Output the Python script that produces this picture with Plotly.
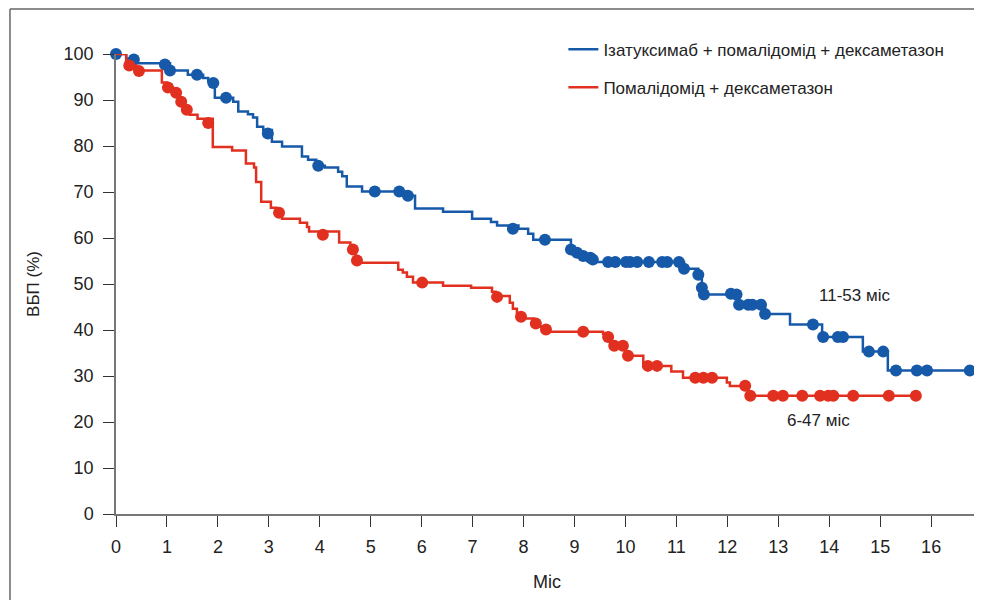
import plotly.graph_objects as go

# ---- Data ----
months_ticks = list(range(0, 17))
pfs_ticks = list(range(0, 101, 10))

# Isatuximab + pomalidomide + dexamethasone: KM step curve
isa_t = [0, 0.2, 0.37, 1.06, 1.41, 1.71, 1.81, 1.94, 2.3, 2.4, 2.59, 2.69, 2.77, 2.89, 3.06,
         3.26, 3.65, 3.77, 3.93, 4.1, 4.36, 4.44, 4.53, 4.83, 5.7, 5.87, 6.42, 6.99, 7.36, 7.48,
         7.9, 8.09, 8.19, 8.93, 9.05, 9.17, 9.36, 11.15, 11.43, 11.5, 11.54, 12.21, 12.74, 13.23,
         13.86, 14.66, 15.15, 16.76]
isa_s = [100, 99, 98, 96.4, 95.5, 94.8, 94.0, 90.5, 89.6, 87.5, 86.9, 86.2, 84.2, 83.5, 80.9,
         79.9, 77.7, 77.0, 75.7, 75.3, 74.4, 73.4, 71.2, 70.1, 69.2, 66.4, 65.7, 64.2, 63.5, 62.7,
         62.0, 60.9, 59.6, 57.5, 56.8, 56.1, 54.8, 53.3, 52.0, 49.2, 47.7, 45.5, 43.5, 41.2,
         38.5, 35.3, 31.2, 31.2]
isa_cens_t = [0, 0.35, 0.96, 1.06, 1.59, 1.91, 2.16, 2.98, 3.97, 5.08, 5.56, 5.73, 7.79, 8.42,
              8.93, 9.05, 9.17, 9.31, 9.36, 9.66, 9.8, 10.01, 10.09, 10.23, 10.46, 10.72, 10.82,
              11.05, 11.15, 11.43, 11.5, 11.54, 12.07, 12.18, 12.23, 12.41, 12.49, 12.66, 12.74,
              13.68, 13.88, 14.17, 14.27, 14.78, 15.06, 15.31, 15.72, 15.92, 16.76]
isa_cens_s = [100, 98.8, 97.7, 96.4, 95.5, 93.7, 90.5, 82.7, 75.7, 70.1, 70.1, 69.2, 62.0, 59.6,
              57.5, 56.8, 56.1, 55.7, 55.3, 54.8, 54.8, 54.8, 54.8, 54.8, 54.8, 54.8, 54.8,
              54.8, 53.3, 52.0, 49.2, 47.7, 47.9, 47.7, 45.5, 45.5, 45.5, 45.5, 43.5,
              41.2, 38.5, 38.5, 38.5, 35.3, 35.3, 31.2, 31.2, 31.2, 31.2]

# Pomalidomide + dexamethasone: KM step curve
pd_t = [0, 0.2, 0.4, 0.9, 1.0, 1.12, 1.25, 1.35, 1.45, 1.6, 1.9, 2.28, 2.55, 2.71, 2.75, 2.85,
        3.04, 3.15, 3.26, 3.61, 3.75, 3.79, 4.38, 4.6, 4.7, 4.77, 5.54, 5.63, 5.71, 5.83, 6.42,
        6.97, 7.38, 7.45, 7.73, 7.79, 7.87, 7.93, 8.03, 8.2, 8.32, 8.4, 9.56, 9.62, 9.7, 10.0,
        10.35, 10.9, 11.13, 11.99, 12.05, 12.41, 15.7]
pd_s = [100, 97.5, 96.4, 93.8, 92.7, 91.6, 89.6, 87.9, 86.8, 85.9, 79.8, 79.0, 76.2, 75.3, 72.2,
        67.9, 66.6, 65.5, 64.2, 63.3, 62.4, 61.4, 59.0, 57.5, 55.1, 54.6, 53.1, 52.5, 51.6, 50.3,
        49.6, 49.2, 48.3, 47.4, 45.9, 44.6, 43.5, 42.9, 42.5, 41.4, 40.7, 39.6, 39.2, 38.5, 36.6,
        34.4, 32.2, 31.0, 29.6, 28.6, 27.8, 25.7, 25.7]
pd_cens_t = [0.26, 0.45, 1.02, 1.18, 1.28, 1.39, 1.81, 3.2, 4.06, 4.65, 4.73, 6.01, 7.48, 7.95,
             8.24, 8.44, 9.17, 9.66, 9.78, 9.95, 10.05, 10.44, 10.62, 11.37, 11.53, 11.7, 12.35,
             12.45, 12.9, 13.09, 13.47, 13.82, 13.98, 14.08, 14.47, 15.17, 15.7]
pd_cens_s = [97.5, 96.3, 92.7, 91.6, 89.6, 87.9, 85.0, 65.5, 60.7, 57.5, 55.1, 50.3, 47.2, 42.9,
             41.4, 40.1, 39.6, 38.5, 36.6, 36.6, 34.4, 32.2, 32.2, 29.6, 29.6, 29.6, 27.9,
             25.7, 25.7, 25.7, 25.7, 25.7, 25.7, 25.7, 25.7, 25.7, 25.7]

series_names = ["Ізатуксимаб + помалідомід + дексаметазон", "Помалідомід + дексаметазон"]
median_labels = ["11-53 міс", "6-47 міс"]

BLUE = "#1659a9"
RED = "#e1301f"
FONT = "Liberation Sans, Arial, sans-serif"

fig = go.Figure()
for t, s, ct, cs, name, col, grp in [
    (isa_t, isa_s, isa_cens_t, isa_cens_s, series_names[0], BLUE, "a"),
    (pd_t, pd_s, pd_cens_t, pd_cens_s, series_names[1], RED, "b"),
]:
    fig.add_trace(go.Scatter(x=t, y=s, mode="lines", line=dict(color=col, width=2.5, shape="hv"),
                             name=name, legendgroup=grp, cliponaxis=False))
    fig.add_trace(go.Scatter(x=ct, y=cs, mode="markers", marker=dict(color=col, size=12),
                             showlegend=False, legendgroup=grp, cliponaxis=False, hoverinfo="skip"))

fig.add_annotation(x=14.5, y=47.5, text=median_labels[0], showarrow=False,
                   font=dict(size=17, color="#222", family=FONT))
fig.add_annotation(x=13.78, y=20.3, text=median_labels[1], showarrow=False,
                   font=dict(size=17, color="#222", family=FONT))

# outer frame (top and left edges)
fig.add_shape(type="line", xref="paper", yref="paper", x0=-0.123, x1=0.998, y0=1.0978, y1=1.0978,
              line=dict(color="#666", width=1.5))
fig.add_shape(type="line", xref="paper", yref="paper", x0=-0.123, x1=-0.123, y0=1.0978, y1=-0.25,
              line=dict(color="#666", width=1.5))

# page body adds an 8px offset; the figure is sized to fit the 982x608 window without scrolling
fig.update_layout(
    width=974, height=592,
    margin=dict(l=108, r=4, t=46, b=86),
    paper_bgcolor="white", plot_bgcolor="white",
    font=dict(family=FONT, size=18, color="#222"),
    showlegend=True,
    legend=dict(x=0.519, y=1.0487, xanchor="left", yanchor="top", bgcolor="rgba(0,0,0,0)",
                font=dict(size=17, color="#222"), tracegroupgap=13),
    xaxis=dict(range=[0, 16.92], tickmode="array", tickvals=months_ticks,
               ticktext=[str(v) for v in months_ticks], showgrid=False, zeroline=False,
               showline=True, linecolor="#777", linewidth=1.5, ticks="outside", ticklen=11,
               tickcolor="#333", tickwidth=1.2, ticklabelstandoff=5, automargin=False,
               title=dict(text="Міс", font=dict(size=18), standoff=19)),
    yaxis=dict(range=[0, 100], tickmode="array", tickvals=pfs_ticks,
               ticktext=[str(v) for v in pfs_ticks], showgrid=False, zeroline=False,
               showline=True, linecolor="#777", linewidth=1.5, ticks="outside", ticklen=11,
               tickcolor="#333", tickwidth=1.2, ticklabelstandoff=6, automargin=False,
               title=dict(text="ВБП (%)", font=dict(size=17), standoff=20)),
)

fig.write_html("out.html", config={"displayModeBar": False})
